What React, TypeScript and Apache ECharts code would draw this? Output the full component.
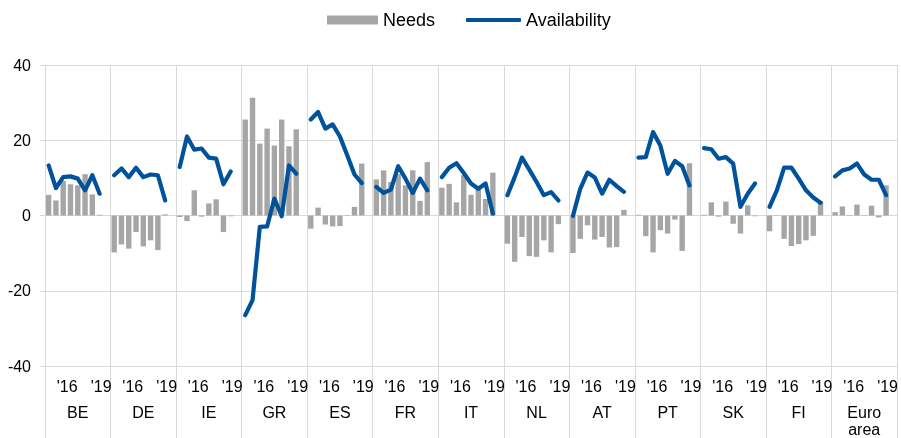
import React, { useEffect, useRef } from "react";
import * as echarts from "echarts";

// Country groups (x axis, second level)
const countries = ["BE", "DE", "IE", "GR", "ES", "FR", "IT", "NL", "AT", "PT", "SK", "FI", "Euro\narea"];

// Period tick labels within each group (8 survey rounds + 1 blank spacer slot)
const periodLabels = ["", "", "'16", "", "", "", "", "'19"];

// Needs (grey bars), one row per country
const needs = [
  [5.5, 4.0, 9.2, 8.3, 8.0, 11.0, 5.6, 0.2], // BE
  [-9.8, -7.7, -8.8, -4.4, -8.2, -6.6, -9.2, 0.3], // DE
  [-0.4, -1.5, 6.7, -0.3, 3.2, 4.3, -4.4, -0.2], // IE
  [25.5, 31.3, 19.1, 23.1, 18.6, 25.5, 18.4, 22.9], // GR
  [-3.5, 2.1, -2.4, -2.9, -2.8, 0.1, 2.3, 13.8], // ES
  [9.6, 12.0, 8.9, 11.0, 8.0, 12.0, 3.9, 14.2], // FR
  [7.4, 8.4, 3.5, 10.7, 5.5, 7.0, 4.4, 11.4], // IT
  [-7.5, -12.3, -5.7, -10.8, -11.0, -6.6, -9.8, -2.3], // NL
  [-10.0, -6.2, -2.6, -6.4, -5.7, -8.5, -8.4, 1.5], // AT
  [0.2, -5.5, -9.8, -3.9, -4.8, -1.1, -9.4, 13.9], // PT
  [0.2, 3.5, -0.3, 3.7, -2.2, -4.8, 2.7, -0.2], // SK
  [-4.2, 0.1, -6.2, -8.1, -7.6, -6.6, -5.4, 3.8], // FI
  [0.9, 2.4, 0.1, 2.9, 0.1, 2.6, -0.5, 8.0], // Euro area
];

// Availability (blue line), one row per country
const availability = [
  [13.3, 7.3, 10.2, 10.4, 9.8, 6.7, 10.7, 5.8], // BE
  [10.7, 12.5, 10.2, 12.7, 10.2, 10.9, 10.7, 4.0], // DE
  [12.9, 21.0, 17.5, 17.8, 15.4, 15.1, 8.3, 11.7], // IE
  [-26.5, -22.5, -3.0, -2.9, 4.5, -0.2, 13.3, 11.1], // GR
  [25.5, 27.5, 23.1, 24.2, 21.0, 16.0, 10.9, 8.6], // ES
  [7.6, 6.0, 6.9, 13.1, 9.8, 6.0, 9.8, 6.7], // FR
  [10.2, 12.7, 13.9, 11.3, 8.5, 7.1, 8.5, 0.5], // IT
  [5.4, 10.2, 15.4, 12.2, 8.9, 5.4, 6.2, 4.0], // NL
  [-0.1, 7.1, 11.4, 10.1, 5.8, 9.5, 7.8, 6.3], // AT
  [15.4, 15.5, 22.2, 18.6, 11.1, 14.5, 13.1, 8.0], // PT
  [17.9, 17.6, 15.1, 15.5, 13.8, 2.3, 5.8, 8.5], // SK
  [2.3, 6.7, 12.7, 12.7, 9.8, 6.7, 4.8, 3.4], // FI
  [10.4, 12.0, 12.5, 13.8, 10.9, 9.5, 9.5, 5.4], // Euro area
];

const yMin = -40;
const yMax = 40;
const yInterval = 20;

const SLOTS = 9; // 8 periods + 1 spacer
const FONT = "'Liberation Sans', Arial, sans-serif";
const GRID_COLOR = "#d9d9d9";
const BAR_COLOR = "#a6a6a6";
const LINE_COLOR = "#00529b";

export default function App() {
  const ref = useRef<HTMLDivElement>(null);

  useEffect(() => {
    if (!ref.current) return;
    const chart = echarts.init(ref.current, undefined, { renderer: "svg" });

    const cats: string[] = [];
    const needsFlat: (number | null)[] = [];
    const availFlat: (number | null)[] = [];
    countries.forEach((c, g) => {
      for (let i = 0; i < SLOTS; i++) {
        cats.push(g + "-" + i);
        needsFlat.push(i < 8 ? needs[g][i] : null);
        availFlat.push(i < 8 ? availability[g][i] : null);
      }
    });

    const legendText = { fontSize: 18, color: "#000", fontFamily: FONT };

    chart.setOption({
      animation: false,
      textStyle: { fontFamily: FONT },
      legend: [
        {
          data: [{ name: "Needs", icon: "rect" }],
          left: 327,
          top: 11,
          padding: 0,
          itemWidth: 51,
          itemHeight: 9,
          textStyle: legendText,
        },
        {
          data: [{ name: "Availability", icon: "roundRect" }],
          left: 466,
          top: 11,
          padding: 0,
          itemWidth: 55,
          itemHeight: 4,
          itemStyle: { color: LINE_COLOR },
          textStyle: legendText,
        },
      ],
      grid: { left: 45, right: 2, top: 65, bottom: 72, containLabel: false },
      xAxis: [
        {
          type: "category",
          data: cats,
          boundaryGap: true,
          axisLine: { show: false },
          axisTick: { show: false },
          splitLine: { show: false },
          axisLabel: {
            interval: 0,
            margin: 12,
            fontSize: 16,
            color: "#000",
            fontFamily: FONT,
            formatter: (_v: string, idx: number) => {
              const s = idx % SLOTS;
              const t = s < 8 ? periodLabels[s] : "";
              if (!t) return "";
              return s === 2 ? "{a|" + t + "}" : "{b|" + t + "}";
            },
            rich: {
              a: { fontSize: 16, color: "#000", fontFamily: FONT, padding: [0, 0, 0, 8] },
              b: { fontSize: 16, color: "#000", fontFamily: FONT, padding: [0, 0, 0, 3] },
            },
          },
        },
        {
          type: "category",
          data: countries,
          position: "bottom",
          boundaryGap: true,
          axisLine: { show: false },
          axisTick: { show: true, length: 75, lineStyle: { color: GRID_COLOR, width: 1 } },
          splitLine: { show: true, lineStyle: { color: GRID_COLOR, width: 1 } },
          axisLabel: {
            interval: 0,
            margin: 38,
            fontSize: 16,
            lineHeight: 17,
            color: "#000",
            fontFamily: FONT,
          },
        },
      ],
      yAxis: {
        type: "value",
        min: yMin,
        max: yMax,
        interval: yInterval,
        axisLine: { show: false },
        axisTick: { show: true, length: 5, lineStyle: { color: GRID_COLOR } },
        splitLine: { show: true, lineStyle: { color: GRID_COLOR, width: 1 } },
        axisLabel: { fontSize: 16, color: "#000", margin: 14, fontFamily: FONT },
      },
      series: [
        {
          name: "Needs",
          type: "bar",
          xAxisIndex: 0,
          data: needsFlat,
          barWidth: "74%",
          itemStyle: { color: BAR_COLOR },
          z: 2,
        },
        {
          name: "Availability",
          type: "line",
          xAxisIndex: 0,
          data: availFlat,
          connectNulls: false,
          showSymbol: false,
          symbol: "none",
          itemStyle: { color: LINE_COLOR },
          lineStyle: { color: LINE_COLOR, width: 4.2, cap: "round", join: "round" },
          z: 3,
        },
      ],
    });

    return () => chart.dispose();
  }, []);

  return (
    <div
      ref={ref}
      style={{ position: "fixed", left: 0, top: 0, width: 901, height: 438 }}
    />
  );
}
